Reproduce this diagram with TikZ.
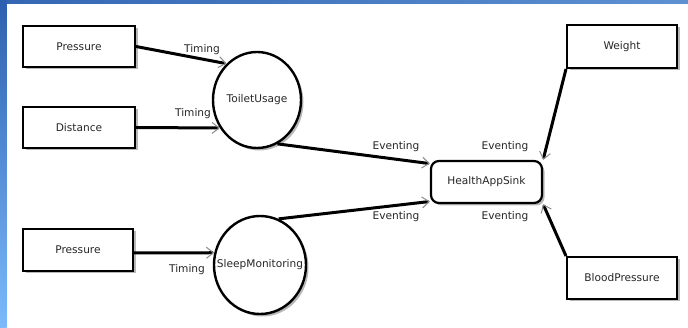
\documentclass[tikz,border=0pt]{standalone}
\usepackage{fontspec}
\setmainfont{DejaVu Sans}
\usetikzlibrary{arrows.meta,shapes.geometric,shadows}
\definecolor{barTopL}{HTML}{3466B4}
\definecolor{barTopR}{HTML}{5E90D2}
\definecolor{barSideT}{HTML}{2C60AE}
\definecolor{barSideB}{HTML}{7CBAFC}
\begin{document}
\begin{tikzpicture}[x=1pt,y=-1pt,
  font=\fontsize{10.6}{12}\selectfont,
  softshadow/.style={drop shadow={shadow xshift=2.5pt,shadow yshift=-2.5pt,opacity=0.28,fill=black}},
  comp/.style={draw, line width=2pt, rectangle, minimum width=112pt, minimum height=41pt,
    inner sep=0pt, fill=white, text=black!85, softshadow},
  proc/.style={draw, line width=2.4pt, ellipse, inner sep=0pt, fill=white, text=black!85, softshadow},
  sinkbox/.style={draw, line width=2.2pt, rectangle, rounded corners=8pt, minimum width=111pt,
    minimum height=42pt, inner sep=0pt, fill=white, text=black!85, softshadow},
  flow/.style={line width=3pt, -{Straight Barb[length=7pt,width=11pt,line width=1pt,color=black!45]}},
  lbl/.style={inner sep=0pt, text=black!85}
]
\useasboundingbox (0,0) rectangle (688,328);
\fill[white] (0,0) rectangle (688,328);
% window frame
\shade[left color=barTopL, right color=barTopR] (0,0) rectangle (688,3.5);
\shade[top color=barSideT, bottom color=barSideB] (0,0) rectangle (6.5,328);

% sources
\node[comp] (p1) at (79,46.5) {Pressure};
\node[comp] (dist) at (79,127.5) {Distance};
\node[comp, minimum width=110pt, minimum height=42pt] (p2) at (78,250) {Pressure};
\node[comp, minimum width=110pt, minimum height=43pt] (w) at (622,46.5) {Weight};
\node[comp, minimum width=110pt, minimum height=42pt] (bp) at (622,278) {BloodPressure};

% processing stages
\node[proc, minimum width=88pt, minimum height=96pt] (tu) at (257,100) {\makebox[0pt]{ToiletUsage}};
\node[proc, minimum width=92pt, minimum height=98pt] (sm) at (260,265) {\makebox[0pt]{SleepMonitoring}};

% sink
\node[sinkbox] (sink) at (486.5,182) {HealthAppSink};

% flows
\draw[flow] (p1.east) -- (tu.130);
\draw[flow] (dist.east) -- (tu.217);
\draw[flow] (p2.-3) -- (sm.165);
\draw[flow] (tu.-65) -- (sink.162);
\draw[flow] (sm.68) -- (sink.199);
\draw[flow] (w.south west) -- (sink.north east);
\draw[flow] (bp.north west) -- (sink.south east);

% flow labels
\node[lbl] (l1) at (202,50) {Timing};
\node[lbl] (l2) at (193,114) {Timing};
\node[lbl] (l3) at (187,270) {Timing};
\node[lbl] (l4) at (396,147) {Eventing};
\node[lbl] (l5) at (505,147) {Eventing};
\node[lbl] (l6) at (396,217) {Eventing};
\node[lbl] (l7) at (505,217) {Eventing};
\end{tikzpicture}
\end{document}
